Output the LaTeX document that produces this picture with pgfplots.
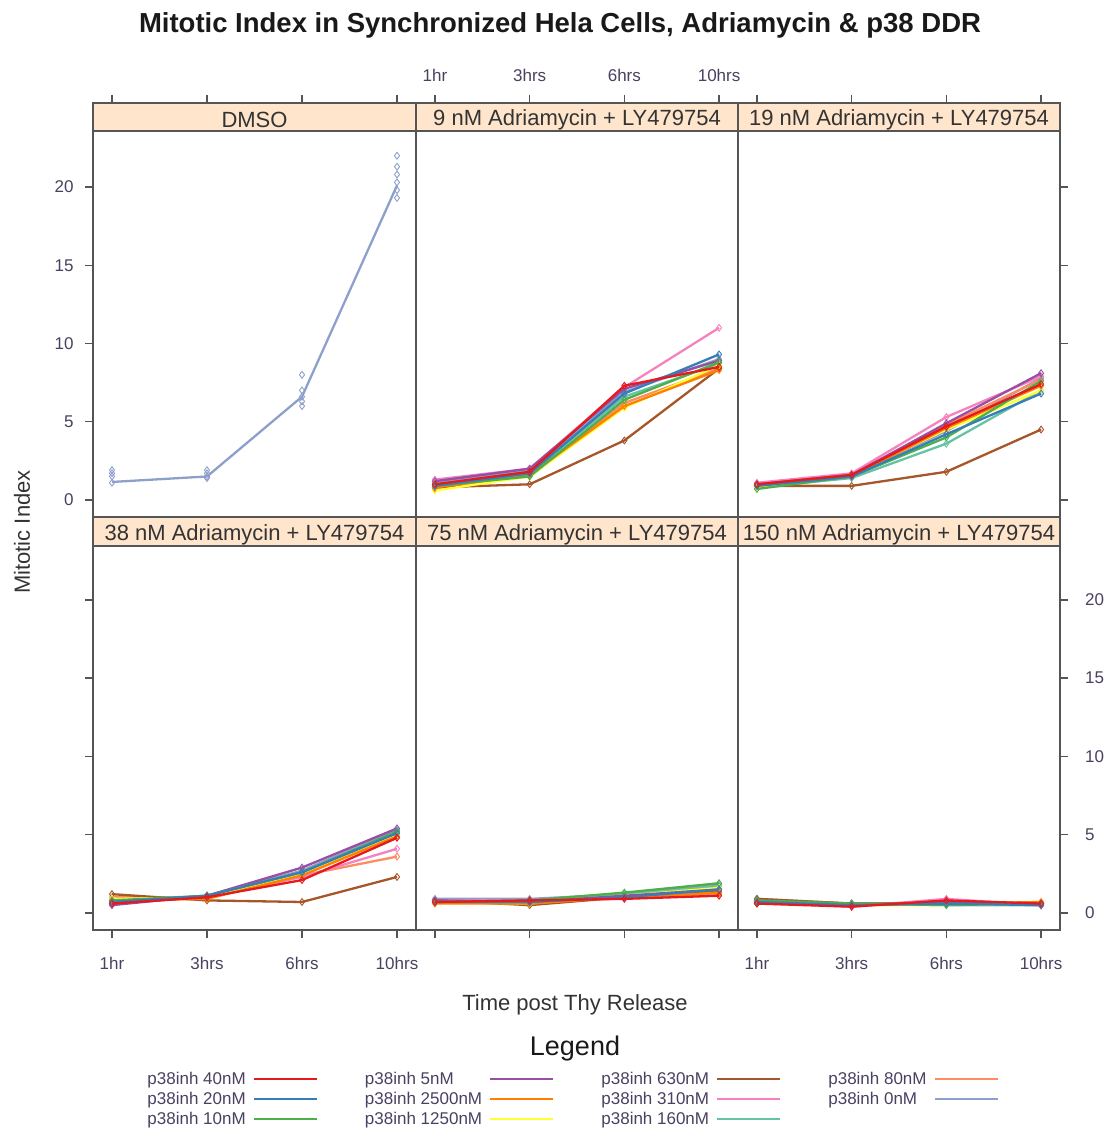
\documentclass[border=0pt]{standalone}
\usepackage{pgfplots}
\pgfplotsset{compat=1.18}
\usepackage{pgfplotstable}
\usepackage{fontspec}
\setmainfont{Liberation Sans}

% series colours
\definecolor{c40}{HTML}{E41A1C}
\definecolor{c20}{HTML}{377EB8}
\definecolor{c10}{HTML}{4DAF4A}
\definecolor{c5}{HTML}{984EA3}
\definecolor{c2500}{HTML}{FF7F00}
\definecolor{c1250}{HTML}{FFFF33}
\definecolor{c630}{HTML}{A65628}
\definecolor{c310}{HTML}{F781BF}
\definecolor{c160}{HTML}{66C2A5}
\definecolor{c80}{HTML}{FC8D62}
\definecolor{c0}{HTML}{8DA0CB}
\definecolor{stripfill}{HTML}{FFE5CC}
\definecolor{framegray}{HTML}{555555}
\definecolor{txt}{HTML}{4A4060}
\definecolor{striptxt}{HTML}{333333}

% time points: 1 = 1hr, 2 = 3hrs, 3 = 6hrs, 4 = 10hrs
\pgfplotstableread{
t v
1 1.15
2 1.50
3 6.60
4 20.10
}\dmsoline
\pgfplotstableread{
t v
1 1.10
1 1.50
1 1.70
1 1.90
2 1.40
2 1.50
2 1.70
2 1.90
3 6.00
3 6.30
3 6.60
3 7.00
3 8.00
4 19.30
4 19.80
4 20.30
4 20.80
4 21.30
4 22.00
}\dmsopts
\pgfplotstableread{
t  r   b   g   pu  o   y   br  pk   tl  sa  gb
1  1.0 0.9 0.9 1.2 0.8 0.6 0.8 1.3  1.0 0.7 1.1
2  1.8 1.7 1.5 2.0 1.6 1.5 1.0 2.0  1.7 1.6 1.9
3  7.3 6.8 6.4 7.1 6.0 5.9 3.8 7.2  6.6 6.2 6.9
4  8.5 9.3 8.8 8.9 8.3 8.6 8.4 11.0 8.7 8.4 9.0
}\adNine
\pgfplotstableread{
t  r   b   g   pu  o   y   br  pk  tl  sa  gb
1  1.0 0.9 0.7 1.0 0.9 0.8 0.9 1.1 0.8 0.9 1.0
2  1.6 1.5 1.5 1.6 1.5 1.6 0.9 1.7 1.4 1.5 1.6
3  4.7 4.2 4.0 4.9 4.6 4.5 1.8 5.3 3.6 4.8 4.4
4  7.4 6.8 7.6 8.1 7.3 7.0 4.5 7.9 7.0 7.7 7.8
}\adNineteen
\pgfplotstableread{
t  r   b   g   pu  o   y   br  pk  tl  sa  gb
1  0.6 0.7 0.8 0.5 0.8 0.9 1.2 0.7 0.7 1.0 0.6
2  1.0 1.1 1.1 1.1 0.9 1.0 0.8 1.0 1.1 1.0 1.1
3  2.1 2.6 2.6 2.9 2.4 2.5 0.7 2.3 2.5 2.4 2.7
4  4.8 5.1 5.2 5.4 4.9 5.0 2.3 4.1 5.1 3.6 5.3
}\adThirtyEight
\pgfplotstableread{
t  r   b   g   pu  o   y   br  pk  tl  sa  gb
1  0.7 0.7 0.7 0.8 0.6 0.7 0.8 0.8 0.7 0.7 0.9
2  0.8 0.7 0.8 0.7 0.6 0.6 0.5 0.8 0.8 0.7 0.9
3  0.9 1.0 1.3 1.1 1.0 1.1 1.0 1.0 1.2 1.0 1.2
4  1.1 1.5 1.9 1.5 1.3 1.6 1.4 1.3 1.7 1.2 1.8
}\adSeventyFive
\pgfplotstableread{
t  r   b   g   pu  o   y   br  pk  tl  sa  gb
1  0.6 0.7 0.8 0.7 0.6 0.7 0.9 0.7 0.6 0.8 0.9
2  0.4 0.5 0.6 0.5 0.5 0.5 0.6 0.4 0.6 0.5 0.6
3  0.8 0.6 0.5 0.7 0.6 0.5 0.6 0.9 0.5 0.7 0.6
4  0.6 0.5 0.6 0.5 0.7 0.6 0.6 0.5 0.5 0.6 0.5
}\adOneFifty

\pgfplotsset{
  panel/.style={
    scale only axis,
    xmin=0.8, xmax=4.2, ymin=-1.09,
    xtick={1,2,3,4}, ytick={0,5,10,15,20},
    tick align=outside, major tick length=8pt,
    axis line style={draw=framegray, line width=2pt},
    tick style={draw=framegray, line width=1.5pt},
    ticklabel style={font=\fontsize{17}{17}\selectfont, text=txt},
    axis on top, clip mode=individual,
  },
  col1/.style={width=323pt},
  col2/.style={width=322pt},
  toprow/.style={height=414pt, ymax=25.37, xtick pos=right, xticklabel pos=right,
    xticklabel style={yshift=10pt}},
  botrow/.style={height=413pt, ymax=25.30, xtick pos=left, xticklabel pos=left,
    xticklabel style={yshift=-16pt}},
  leftlab/.style={ytick pos=left, yticklabels={0,5,10,15,20},
    yticklabel shift=8pt},
  ser/.style={line width=2.3pt, mark=diamond, mark size=3.4pt,
    mark options={line width=0.9pt, solid}, forget plot},
}
\newcommand{\timelabels}{xticklabels={1hr,3hrs,6hrs,10hrs}}

% all eleven inhibitor doses of one panel
\newcommand{\allseries}[1]{%
  \addplot[ser, c0]    table[x=t, y=gb] {#1};
  \addplot[ser, c80]   table[x=t, y=sa] {#1};
  \addplot[ser, c160]  table[x=t, y=tl] {#1};
  \addplot[ser, c310]  table[x=t, y=pk] {#1};
  \addplot[ser, c630]  table[x=t, y=br] {#1};
  \addplot[ser, c1250] table[x=t, y=y]  {#1};
  \addplot[ser, c2500] table[x=t, y=o]  {#1};
  \addplot[ser, c5]    table[x=t, y=pu] {#1};
  \addplot[ser, c10]   table[x=t, y=g]  {#1};
  \addplot[ser, c20]   table[x=t, y=b]  {#1};
  \addplot[ser, c40]   table[x=t, y=r]  {#1};
}
% strip with panel name; #1 = lower edge (rel), #2 = centre (rel), #3 = text
\newcommand{\strip}[3]{%
  \fill[stripfill] (rel axis cs:0,#1) rectangle (rel axis cs:1,1);
  \draw[framegray, line width=2pt] (rel axis cs:0,#1) -- (rel axis cs:1,#1);
  \node[font=\fontsize{22}{22}\selectfont, text=striptxt, yshift=-3pt] at (rel axis cs:0.5,#2) {#3};
}
% tick label on the right-hand side of a panel
\newcommand{\rlab}[1]{%
  \node[anchor=west, inner sep=0pt, xshift=25pt, font=\fontsize{17}{17}\selectfont, text=txt]
    at (axis cs:4.2,#1) {#1};
}

\begin{document}
\begin{tikzpicture}
\useasboundingbox (0,0) rectangle (1107pt,-1131pt);

% ---- top row ----
\begin{axis}[panel, col1, toprow, leftlab, at={(93pt,-103pt)}, anchor=north west, xticklabels={}]
  \strip{0.93237}{0.96618}{DMSO}
  \addplot[only marks, mark=diamond, mark size=3.4pt, c0, line width=0.9pt, forget plot] table[x=t, y=v] {\dmsopts};
  \addplot[c0, line width=2.3pt, forget plot] table[x=t, y=v] {\dmsoline};
\end{axis}

\begin{axis}[panel, col2, toprow, at={(416pt,-103pt)}, anchor=north west, \timelabels, ytick=\empty]
  \strip{0.93237}{0.96618}{9 nM Adriamycin + LY479754}
  \allseries{\adNine}
\end{axis}

\begin{axis}[panel, col2, toprow, at={(738pt,-103pt)}, anchor=north west, xticklabels={}, ytick pos=right, yticklabels={}]
  \strip{0.93237}{0.96618}{19 nM Adriamycin + LY479754}
  \allseries{\adNineteen}
\end{axis}

% ---- bottom row ----
\begin{axis}[panel, col1, botrow, at={(93pt,-517pt)}, anchor=north west, \timelabels, ytick pos=left, yticklabels={}]
  \strip{0.92978}{0.96489}{38 nM Adriamycin + LY479754}
  \allseries{\adThirtyEight}
\end{axis}

\begin{axis}[panel, col2, botrow, at={(416pt,-517pt)}, anchor=north west, xticklabels={}, ytick=\empty,
    legend columns=4, legend plot pos=right, legend cell align=left,
    legend image code/.code={\draw[#1] (0pt,0pt) -- (63pt,0pt);},
    legend style={draw=none, fill=none, at={(0.485,-0.334)}, anchor=north,
      font=\fontsize{17}{17}\selectfont, text=txt, row sep=2pt,
      /tikz/every odd column/.append style={column sep=5pt},
      /tikz/every even column/.append style={column sep=45pt}}]
  \strip{0.92978}{0.96489}{75 nM Adriamycin + LY479754}
  \allseries{\adSeventyFive}
  \addlegendimage{c40, line width=2.2pt}   \addlegendentry{p38inh 40nM}
  \addlegendimage{c5, line width=2.2pt}    \addlegendentry{p38inh 5nM}
  \addlegendimage{c630, line width=2.2pt}  \addlegendentry{p38inh 630nM}
  \addlegendimage{c80, line width=2.2pt}   \addlegendentry{p38inh 80nM}
  \addlegendimage{c20, line width=2.2pt}   \addlegendentry{p38inh 20nM}
  \addlegendimage{c2500, line width=2.2pt} \addlegendentry{p38inh 2500nM}
  \addlegendimage{c310, line width=2.2pt}  \addlegendentry{p38inh 310nM}
  \addlegendimage{c0, line width=2.2pt}    \addlegendentry{p38inh 0nM}
  \addlegendimage{c10, line width=2.2pt}   \addlegendentry{p38inh 10nM}
  \addlegendimage{c1250, line width=2.2pt} \addlegendentry{p38inh 1250nM}
  \addlegendimage{c160, line width=2.2pt}  \addlegendentry{p38inh 160nM}
\end{axis}

\begin{axis}[panel, col2, botrow, at={(738pt,-517pt)}, anchor=north west, \timelabels,
    ytick pos=right, yticklabels={}]
  \strip{0.92978}{0.96489}{150 nM Adriamycin + LY479754}
  \allseries{\adOneFifty}
  \rlab{0}\rlab{5}\rlab{10}\rlab{15}\rlab{20}
\end{axis}

% ---- titles ----
\node[font=\bfseries\fontsize{27.5}{27.5}\selectfont, text=black!90] at (560pt,-25pt) {Mitotic Index in Synchronized Hela Cells, Adriamycin \& p38 DDR};
\node[font=\fontsize{22}{22}\selectfont, text=striptxt, rotate=90] at (22pt,-532pt) {Mitotic Index};
\node[font=\fontsize{22}{22}\selectfont, text=striptxt] at (575pt,-1005pt) {Time post Thy Release};
\node[font=\fontsize{27}{27}\selectfont, text=black!90] at (575pt,-1049pt) {Legend};
\end{tikzpicture}
\end{document}
